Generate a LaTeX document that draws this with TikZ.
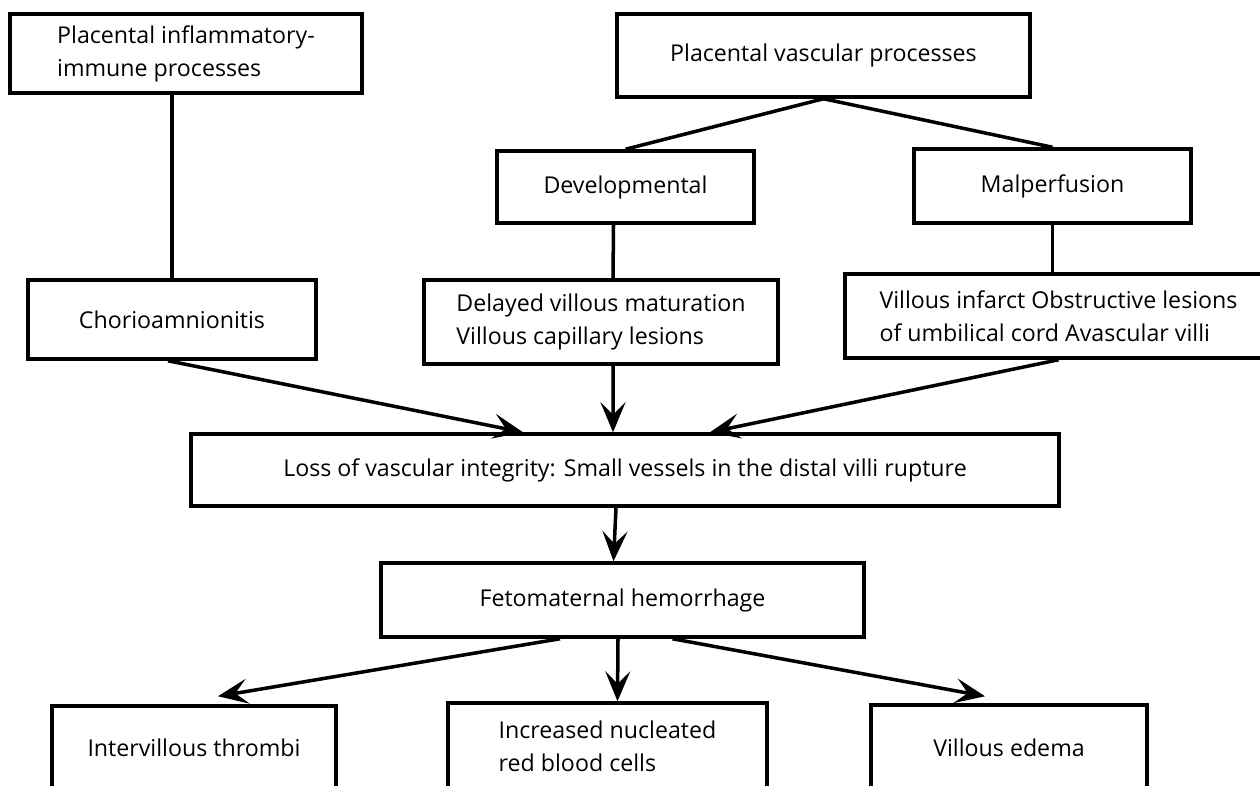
\documentclass[tikz,border=0pt]{standalone}
\usepackage{fontspec}
\setmainfont{Open Sans}
\usetikzlibrary{arrows.meta}

\begin{document}
\begin{tikzpicture}[x=0.02cm, y=-0.02cm,
  box/.style={draw, line width=2pt, align=left, inner sep=0pt, font=\fontsize{13.2}{18.8}\selectfont},
  link/.style={line width=2pt},
  arr/.style={line width=2pt, -{Stealth[length=0.6cm, width=0.5cm, inset=0.25cm]}}]
\clip (0,0) rectangle (1260,785);
% top row
\node[box, minimum width=7.04cm, minimum height=1.58cm] (infl) at (186,53.5) {Placental inflammatory-\\immune processes};
\node[box, minimum width=8.26cm, minimum height=1.66cm] (vasc) at (823.5,55.5) {Placental vascular processes};
\node[box, minimum width=5.14cm, minimum height=1.44cm] (dev) at (625.5,187) {Developmental};
\node[box, minimum width=5.54cm, minimum height=1.48cm] (malp) at (1052.5,186) {Malperfusion};
% lesions
\node[box, minimum width=5.76cm, minimum height=1.58cm] (chorio) at (172,319.5) {Chorioamnionitis};
\node[box, minimum width=7.08cm, minimum height=1.68cm] (delay) at (601,322) {Delayed villous maturation\\Villous capillary lesions};
\node[box, minimum width=8.54cm, minimum height=1.68cm] (infarct) at (1058.5,316) {Villous infarct Obstructive lesions\\of umbilical cord Avascular villi};
% middle
\node[box, minimum width=17.36cm, minimum height=1.44cm] (loss) at (625,470) {Loss of vascular integrity: Small vessels in the distal villi rupture};
\node[box, minimum width=9.66cm, minimum height=1.48cm] (fmh) at (622.5,600) {Fetomaternal hemorrhage};
% outcomes
\node[box, minimum width=5.68cm, minimum height=1.68cm] (thromb) at (194,748) {Intervillous thrombi};
\node[box, minimum width=6.38cm, minimum height=1.74cm] (nrbc) at (607.5,746.5) {Increased nucleated\\red blood cells};
\node[box, minimum width=5.52cm, minimum height=1.7cm] (edema) at (1009,747.5) {Villous edema};

\draw[link] (chorio.north) -- (chorio.north |- infl.south);
\draw[link] (vasc.south) -- (dev.north);
\draw[link] (vasc.south) -- (malp.north);
\draw[link] ([xshift=-0.24cm]dev.south) -- ([xshift=0.24cm]delay.north);
\draw[link] (malp.south) -- (malp.south |- infarct.north);

\draw[arr] ([xshift=-0.08cm]chorio.south) -- ([xshift=-2.04cm]loss.north);
\draw[arr] ([xshift=0.24cm]delay.south) -- ([xshift=-0.24cm]loss.north);
\draw[arr] (infarct.south) -- ([xshift=1.7cm]loss.north);
\draw[arr] ([xshift=-0.18cm]loss.south) -- ([xshift=-0.18cm]fmh.north);

\draw[arr] ([xshift=-1.25cm]fmh.south) -- ([xshift=0.48cm, yshift=0.16cm]thromb.north);
\draw[arr] ([xshift=-0.09cm]fmh.south) -- ([xshift=0.2cm]nrbc.north);
\draw[arr] ([xshift=1.0cm]fmh.south) -- ([xshift=-0.48cm, yshift=0.14cm]edema.north);
\end{tikzpicture}
\end{document}
